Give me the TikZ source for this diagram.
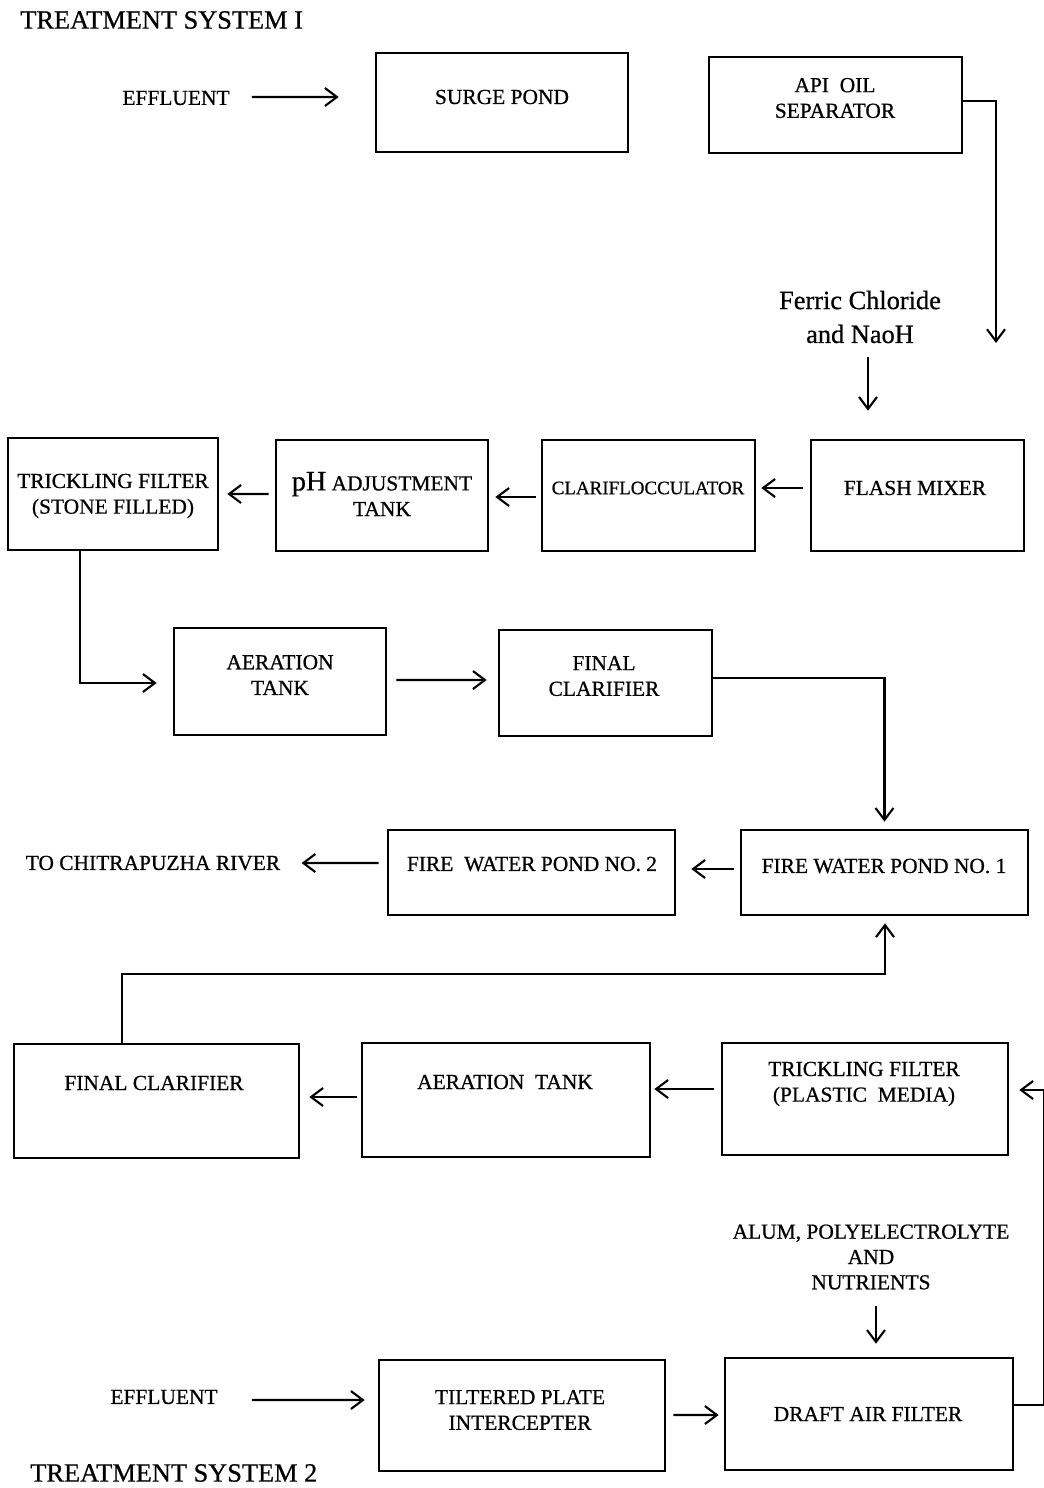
\documentclass[tikz,border=0pt]{standalone}
\usepackage{fontspec}
\setmainfont{Liberation Serif}
\newfontfamily\semib{Liberation Serif}[FakeBold=0.7]
\usetikzlibrary{arrows.meta,calc,fit}
\tikzset{
  box/.style={draw, line width=1.5pt, inner sep=0pt, fill=none},
  txt/.style={inner sep=0pt, align=center, font=\semib\fontsize{12.2}{14.6}\selectfont},
  big/.style={inner sep=0pt, align=center, font=\semib\fontsize{15}{19.3}\selectfont},
  arr/.style={line width=1.2pt, -{Straight Barb[length=2.4mm,width=3.6mm,line width=1.2pt]}},
}
\begin{document}
\begin{tikzpicture}[x=0.02cm,y=-0.02cm]
\useasboundingbox (0,0) rectangle (1044,1488);
% titles
\node[big, anchor=west] (title1) at (20,20) {TREATMENT SYSTEM I};
\node[big, anchor=west] (title2) at (30,1473) {TREATMENT SYSTEM 2};
% boxes
\node[box, fit={(376,53) (628,152)}] (sp) {};
\node[box, fit={(709,57) (962,153)}] (api) {};
\node[box, fit={(8,438) (218,550)}] (tfs) {};
\node[box, fit={(276,440) (488,551)}] (ph) {};
\node[box, fit={(542,440) (755,551)}] (clar) {};
\node[box, fit={(811,440) (1024,551)}] (flash) {};
\node[box, fit={(174,628) (386,735)}] (aer1) {};
\node[box, fit={(499,630) (712,736)}] (fc1) {};
\node[box, fit={(741,830) (1028,915)}] (fwp1) {};
\node[box, fit={(388,830) (675,915)}] (fwp2) {};
\node[box, fit={(14,1044) (299,1158)}] (fc2) {};
\node[box, fit={(362,1043) (650,1157)}] (aer2) {};
\node[box, fit={(722,1043) (1008,1155)}] (tfp) {};
\node[box, fit={(379,1360) (665,1471)}] (tpi) {};
\node[box, fit={(725,1358) (1013,1470)}] (daf) {};
% labels
\node[txt] (eff1) at (176,98) {EFFLUENT};
\node[txt] (spt) at (502,97) {SURGE POND};
\node[txt] (apit) at (835,98) {API~~OIL\\SEPARATOR};
\node[big] (fer) at (860,317) {Ferric Chloride\\and NaoH};
\node[txt] (tfst) at (113,496) {TRICKLING FILTER\\(STONE FILLED)};
\node[txt] (pht) at (382,494) {{\fontsize{16}{16}\selectfont pH}~ADJUSTMENT\\TANK};
\node[txt, font=\semib\fontsize{10.8}{13}\selectfont] (clart) at (648,488) {CLARIFLOCCULATOR};
\node[txt] (flasht) at (915,488) {FLASH MIXER};
\node[txt] (aer1t) at (280,675) {AERATION\\TANK};
\node[txt] (fc1t) at (604,676) {FINAL\\CLARIFIER};
\node[txt] (fwp1t) at (884,866) {FIRE WATER POND NO. 1};
\node[txt] (fwp2t) at (532,864) {FIRE~~WATER POND NO. 2};
\node[txt] (riv) at (153,863) {TO CHITRAPUZHA RIVER};
\node[txt] (fc2t) at (154,1083) {FINAL CLARIFIER};
\node[txt] (aer2t) at (505,1082) {AERATION~~TANK};
\node[txt] (tfpt) at (864,1084) {TRICKLING FILTER\\(PLASTIC~~MEDIA)};
\node[txt, font=\semib\fontsize{12.2}{14.4}\selectfont] (alum) at (871,1257) {ALUM, POLYELECTROLYTE\\AND\\NUTRIENTS};
\node[txt] (eff2) at (164,1397) {EFFLUENT};
\node[txt] (tpit) at (520,1410) {TILTERED PLATE\\INTERCEPTER};
\node[txt] (daft) at (868,1414) {DRAFT AIR FILTER};
% connectors
\coordinate (c1) at (996,343);
\draw[arr] ($(eff1.east)+(22,-1)$) -- ($(sp.west)+(-36,-5.5)$);
\draw[arr] ($(api.east)+(0,-4)$) -| (c1);
\draw[arr] ($(fer.south)+(8,13)$) -- ($(flash.north)+(-49.5,-28)$);
\draw[arr] ($(flash.west)+(-7,-7.5)$) -- ($(clar.east)+(5,-7.5)$);
\draw[arr] ($(clar.west)+(-5,1.5)$) -- ($(ph.east)+(6,1.5)$);
\draw[arr] ($(ph.west)+(-6,-1.5)$) -- ($(tfs.east)+(8,0)$);
\draw[arr] ($(tfs.south)+(-33,0)$) |- ($(aer1.west)+(-16,1.5)$);
\draw[arr] ($(aer1.east)+(9,-1.5)$) -- ($(fc1.west)+(-11,-3)$);
\draw[arr] ($(fc1.east)+(0,-5)$) -| ($(fwp1.north)+(0,-7)$);
\draw[arr] ($(fwp1.west)+(-6,-3.5)$) -- ($(fwp2.east)+(15,-3.5)$);
\draw[arr] ($(fwp2.west)+(-8,-9.5)$) -- ($(riv.east)+(21,0)$);
\draw[arr] ($(fc2.north)+(-34.5,0)$) -- ++(0,-69) -| ($(fwp1.south)+(0.5,7)$);
\draw[arr] ($(tfp.west)+(-7,-10)$) -- ($(aer2.east)+(3,-11)$);
\draw[arr] ($(aer2.west)+(-4,-3)$) -- ($(fc2.east)+(9,-4)$);
\draw[arr] ($(daf.east)+(0,-9)$) -- ++(30,0) |- ($(tfp.east)+(10,-9)$);
\draw[arr] ($(alum.south)+(5,16)$) -- ($(daf.north)+(7,-13)$);
\draw[arr] ($(eff2.east)+(34,3)$) -- ($(tpi.west)+(-13,-15.5)$);
\draw[arr] ($(tpi.east)+(7,-0.5)$) -- ($(daf.west)+(-5,1)$);
\end{tikzpicture}
\end{document}
